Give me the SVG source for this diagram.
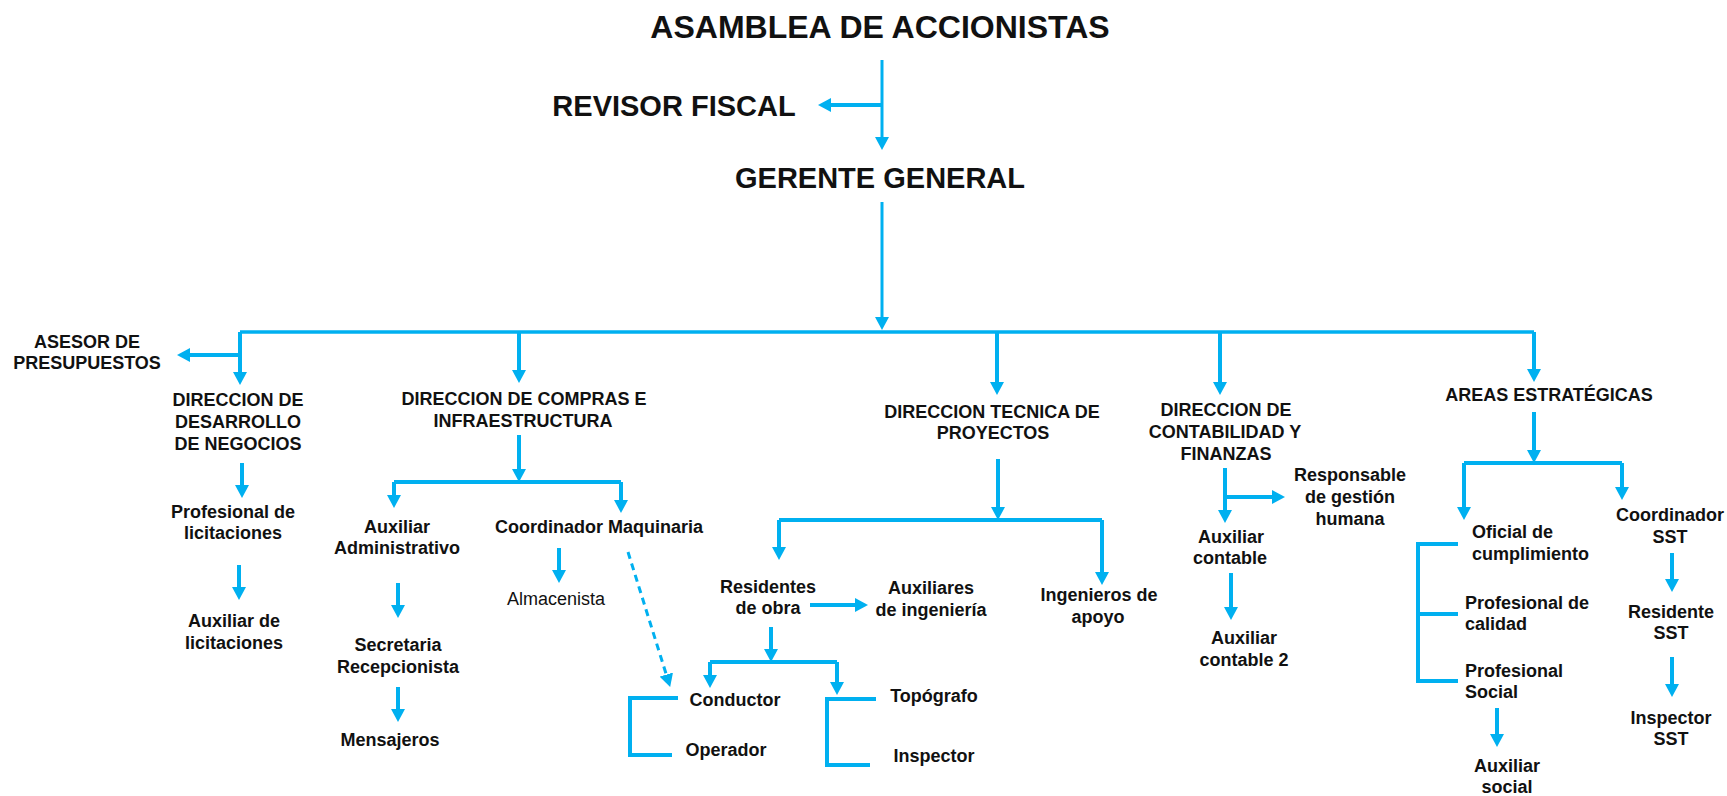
<svg xmlns="http://www.w3.org/2000/svg" width="1727" height="796" viewBox="0 0 1727 796">
<style>
text{font-family:"Liberation Sans",Arial,sans-serif;font-weight:bold;font-size:18px;fill:#111;text-anchor:middle}
.t1{font-size:32px}
.t2{font-size:29px}
.reg{font-weight:normal}
.st{text-anchor:start}
.c path{fill:none;stroke:#00B0F0;stroke-width:4}
.c .a{marker-end:url(#ah)}
.c .thin{stroke-width:3}
.c .bar{stroke-width:3.5}
.c .dash{stroke-width:3;stroke-dasharray:7 5}
</style>
<defs>
<marker id="ah" markerUnits="userSpaceOnUse" viewBox="0 0 13 14" markerWidth="13" markerHeight="14" refX="4" refY="7" orient="auto">
<path d="M0,0 L13,7 L0,14 z" fill="#00B0F0"/>
</marker>
</defs>
<rect width="1727" height="796" fill="#fff"/>
<g class="c" id="connectors">
<path class="a thin" d="M882,60 V141"/>
<path class="a" d="M882,105 H827"/>
<path class="a thin" d="M882,202 V321"/>
<path class="bar" d="M240,332 H1534"/>
<path class="a" d="M240,332 V376"/>
<path class="a" d="M240,355 H186"/>
<path class="a" d="M519,332 V374"/>
<path class="a" d="M997,332 V386"/>
<path class="a" d="M1220,332 V386"/>
<path class="a" d="M1534,332 V373"/>
<path class="a" d="M242,463 V489"/>
<path class="a" d="M239,565 V591"/>
<path class="a" d="M519,435 V473"/>
<path d="M394,482 H621"/>
<path class="a" d="M394,482 V499"/>
<path class="a" d="M621,482 V504"/>
<path class="a" d="M398,583 V609"/>
<path class="a" d="M398,687 V713"/>
<path class="a" d="M559,548 V574"/>
<path class="a dash" d="M628,552 L667.5,678.4"/>
<path class="a" d="M998,459 V511"/>
<path d="M779,520 H1102"/>
<path class="a" d="M779,520 V551"/>
<path class="a" d="M1102,520 V576"/>
<path class="a" d="M810,605 H859"/>
<path class="a" d="M771,627 V653"/>
<path d="M710,662 H837"/>
<path class="a" d="M710,662 V679"/>
<path class="a" d="M837,662 V686"/>
<path d="M678,698 H630 V755 H672"/>
<path d="M876,699 H827 V765 H870"/>
<path class="a" d="M1225,468 V514"/>
<path class="a" d="M1225,497 H1276"/>
<path class="a" d="M1231,573 V611"/>
<path class="a" d="M1534,412 V454"/>
<path d="M1464,463 H1622"/>
<path class="a" d="M1464,463 V511"/>
<path class="a" d="M1622,463 V491"/>
<path d="M1458,544 H1418 V681 H1458 M1418,614 H1458"/>
<path class="a" d="M1497,708 V738"/>
<path class="a" d="M1672,553 V583"/>
<path class="a" d="M1672,657 V688"/>
</g>
<g id="asamblea"><text class="t1" x="880" y="38">ASAMBLEA DE ACCIONISTAS</text></g>
<g id="revisor"><text class="t2" x="674" y="116">REVISOR FISCAL</text></g>
<g id="gerente"><text class="t2" x="880" y="188">GERENTE GENERAL</text></g>
<g id="asesor"><text x="87" y="348">ASESOR DE</text><text x="87" y="369">PRESUPUESTOS</text></g>
<g id="dir-desarrollo"><text x="238" y="406">DIRECCION DE</text><text x="238" y="428">DESARROLLO</text><text x="238" y="450">DE NEGOCIOS</text></g>
<g id="prof-licitaciones"><text x="233" y="518">Profesional de</text><text x="233" y="539">licitaciones</text></g>
<g id="aux-licitaciones"><text x="234" y="627">Auxiliar de</text><text x="234" y="649">licitaciones</text></g>
<g id="dir-compras"><text x="524" y="405">DIRECCION DE COMPRAS E</text><text x="523" y="427">INFRAESTRUCTURA</text></g>
<g id="aux-admin"><text x="397" y="533">Auxiliar</text><text x="397" y="554">Administrativo</text></g>
<g id="secretaria"><text x="398" y="651">Secretaria</text><text x="398" y="673">Recepcionista</text></g>
<g id="mensajeros"><text x="390" y="746">Mensajeros</text></g>
<g id="coord-maquinaria"><text x="599" y="533">Coordinador Maquinaria</text></g>
<g id="almacenista"><text class="reg" x="556" y="605">Almacenista</text></g>
<g id="dir-tecnica"><text x="992" y="418">DIRECCION TECNICA DE</text><text x="993" y="439">PROYECTOS</text></g>
<g id="residentes"><text x="768" y="593">Residentes</text><text x="768" y="614">de obra</text></g>
<g id="aux-ingenieria"><text x="931" y="594">Auxiliares</text><text x="931" y="616">de ingeniería</text></g>
<g id="ingenieros"><text x="1099" y="601">Ingenieros de</text><text x="1098" y="623">apoyo</text></g>
<g id="conductor"><text x="735" y="706">Conductor</text></g>
<g id="operador"><text x="726" y="756">Operador</text></g>
<g id="topografo"><text x="934" y="702">Topógrafo</text></g>
<g id="inspector"><text x="934" y="762">Inspector</text></g>
<g id="dir-contabilidad"><text x="1226" y="416">DIRECCION DE</text><text x="1225" y="438">CONTABILIDAD Y</text><text x="1226" y="460">FINANZAS</text></g>
<g id="resp-gestion"><text x="1350" y="481">Responsable</text><text x="1350" y="503">de gestión</text><text x="1350" y="525">humana</text></g>
<g id="aux-contable"><text x="1231" y="543">Auxiliar</text><text x="1230" y="564">contable</text></g>
<g id="aux-contable2"><text x="1244" y="644">Auxiliar</text><text x="1244" y="666">contable 2</text></g>
<g id="areas"><text x="1549" y="401">AREAS ESTRATÉGICAS</text></g>
<g id="oficial"><text class="st" x="1472" y="538">Oficial de</text><text class="st" x="1472" y="560">cumplimiento</text></g>
<g id="prof-calidad"><text class="st" x="1465" y="609">Profesional de</text><text class="st" x="1465" y="630">calidad</text></g>
<g id="prof-social"><text class="st" x="1465" y="677">Profesional</text><text class="st" x="1465" y="698">Social</text></g>
<g id="aux-social"><text x="1507" y="772">Auxiliar</text><text x="1507" y="793">social</text></g>
<g id="coord-sst"><text x="1670" y="521">Coordinador</text><text x="1670" y="543">SST</text></g>
<g id="residente-sst"><text x="1671" y="618">Residente</text><text x="1671" y="639">SST</text></g>
<g id="inspector-sst"><text x="1671" y="724">Inspector</text><text x="1671" y="745">SST</text></g>
</svg>
